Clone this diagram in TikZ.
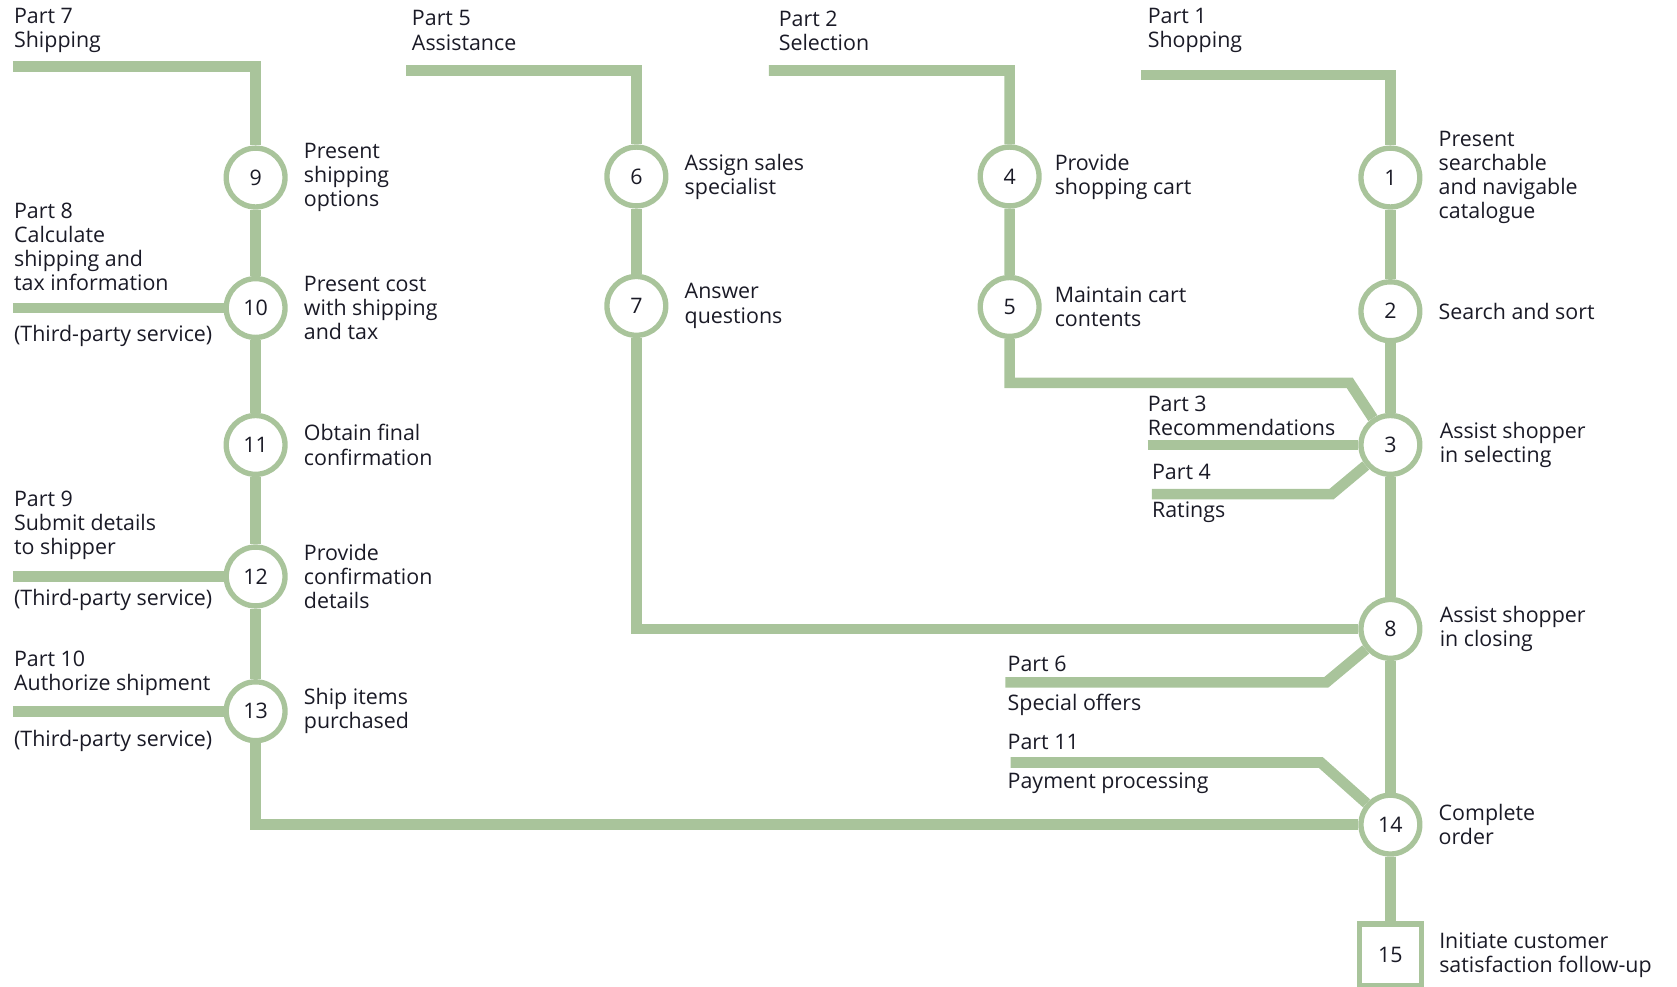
\documentclass[tikz,border=0pt]{standalone}
\usepackage{fontspec}
\setmainfont{Open Sans}
\usetikzlibrary{positioning, backgrounds}
\definecolor{trGreen}{HTML}{A9C49B}
\definecolor{trInk}{HTML}{1A1A26}
\newcommand\lblsize{\fontsize{20}{22.5}\selectfont}
\tikzset{
  track/.style   = {trGreen, line width=10pt, line join=miter},
  stopdot/.style = {circle, draw=trGreen, line width=5pt, fill=white,
                    minimum size=55pt, inner sep=0pt, font=\lblsize, text=trInk},
  stopbox/.style = {rectangle, draw=trGreen, line width=5pt, fill=white,
                    minimum size=58pt, inner sep=0pt, font=\lblsize, text=trInk},
  lbl/.style     = {anchor=west, align=left, inner sep=0pt, font=\lblsize, text=trInk},
}

\begin{document}
\begin{tikzpicture}[x=1pt,y=-1pt]
  \useasboundingbox (0,0) rectangle (1568,922);
  % stops
  \node[stopdot] (n9)  at (239,166) {9};
  \node[stopdot] (n10) at (239,288) {10};
  \node[stopdot] (n11) at (239,416) {11};
  \node[stopdot] (n12) at (239,539) {12};
  \node[stopdot] (n13) at (239,665) {13};
  \node[stopdot] (n6)  at (595,165) {6};
  \node[stopdot] (n7)  at (595,286) {7};
  \node[stopdot] (n4)  at (944,165) {4};
  \node[stopdot] (n5)  at (944,287) {5};
  \node[stopdot] (n1)  at (1300,166) {1};
  \node[stopdot] (n2)  at (1300,291) {2};
  \node[stopdot] (n3)  at (1300,416) {3};
  \node[stopdot] (n8)  at (1300,588) {8};
  \node[stopdot] (n14) at (1300,771) {14};
  \node[stopbox] (n15) at (1300,893) {15};
  % line ends and bends
  \coordinate (t7) at (12,62);     \coordinate (k7) at (239,62);
  \coordinate (t5) at (380,66);    \coordinate (k5) at (595,66);
  \coordinate (t2) at (719,66);    \coordinate (k2) at (944,66);
  \coordinate (t1) at (1067,70);   \coordinate (k1) at (1300,70);
  \coordinate (t8) at (12,288);
  \coordinate (t9) at (12,539);
  \coordinate (t10) at (12,665);
  \coordinate (k13) at (239,771);
  \coordinate (k7b) at (595,588);
  \coordinate (k5b) at (944,358);  \coordinate (k5c) at (1262,358);
  \coordinate (t3) at (1073,416);
  \coordinate (t4) at (1077,462);  \coordinate (k4) at (1245,462);
  \coordinate (t6) at (940,638);   \coordinate (k6) at (1240,638);
  \coordinate (t11) at (945,713);  \coordinate (k11) at (1235,713);
  \begin{pgfonlayer}{background}
    \draw[track] (t7) -- (k7) -- (n9) -- (n10) -- (n11) -- (n12) -- (n13) -- (k13) -- (n14);
    \draw[track] (t5) -- (k5) -- (n6) -- (n7) -- (k7b) -- (n8);
    \draw[track] (t2) -- (k2) -- (n4) -- (n5) -- (k5b) -- (k5c) -- (n3);
    \draw[track] (t1) -- (k1) -- (n1) -- (n2) -- (n3) -- (n8) -- (n14) -- (n15);
    \draw[track] (t8) -- (n10);
    \draw[track] (t9) -- (n12);
    \draw[track] (t10) -- (n13);
    \draw[track] (t3) -- (n3);
    \draw[track] (t4) -- (k4) -- (n3);
    \draw[track] (t6) -- (k6) -- (n8);
    \draw[track] (t11) -- (k11) -- (n14);
  \end{pgfonlayer}
  % part names
  \node[lbl] (h7)  at (13,28.5)   {Part 7\\Shipping};
  \node[lbl] (h5)  at (385,28.5)  {Part 5\\Assistance};
  \node[lbl] (h2)  at (728,28.5)  {Part 2\\Selection};
  \node[lbl] (h1)  at (1073,28.5) {Part 1\\Shopping};
  \node[lbl] (h8)  at (13,230.5)  {Part 8\\Calculate\\shipping and\\tax information};
  \node[lbl] (s8)  at (13,314)    {(Third-party service)};
  \node[lbl] (h9)  at (13,491)    {Part 9\\Submit details\\to shipper};
  \node[lbl] (s9)  at (13,561)    {(Third-party service)};
  \node[lbl] (h10) at (13,629.5)  {Part 10\\Authorize shipment};
  \node[lbl] (s10) at (13,693)    {(Third-party service)};
  \node[lbl] (h3)  at (1073,389)  {Part 3\\Recommendations};
  \node[lbl] (h4)  at (1077,441)  {Part 4};
  \node[lbl] (s4)  at (1077,479)  {Ratings};
  \node[lbl] (h6)  at (942,621)   {Part 6};
  \node[lbl] (s6)  at (942,659)   {Special offers};
  \node[lbl] (h11) at (942,694)   {Part 11};
  \node[lbl] (s11) at (942,732)   {Payment processing};
  % what happens at each stop
  \node[lbl, right=15pt of n9]  (d9)  {Present\\shipping\\options};
  \node[lbl, right=15pt of n10] (d10) {Present cost\\with shipping\\and tax};
  \node[lbl, right=15pt of n11] (d11) {Obtain final\\confirmation};
  \node[lbl, right=15pt of n12] (d12) {Provide\\confirmation\\details};
  \node[lbl, right=15pt of n13] (d13) {Ship items\\purchased};
  \node[lbl, right=15pt of n6]  (d6)  {Assign sales\\specialist};
  \node[lbl, right=15pt of n7]  (d7)  {Answer\\questions};
  \node[lbl, right=12pt of n4]  (d4)  {Provide\\shopping cart};
  \node[lbl, right=12pt of n5]  (d5)  {Maintain cart\\contents};
  \node[lbl, right=15pt of n1]  (d1)  {Present\\searchable\\and navigable\\catalogue};
  \node[lbl, right=15pt of n2]  (d2)  {Search and sort};
  \node[lbl, right=16pt of n3]  (d3)  {Assist shopper\\in selecting};
  \node[lbl, right=16pt of n8]  (d8)  {Assist shopper\\in closing};
  \node[lbl, right=15pt of n14] (d14) {Complete\\order};
  \node[lbl, right=14pt of n15] (d15) {Initiate customer\\satisfaction follow-up};
\end{tikzpicture}
\end{document}
